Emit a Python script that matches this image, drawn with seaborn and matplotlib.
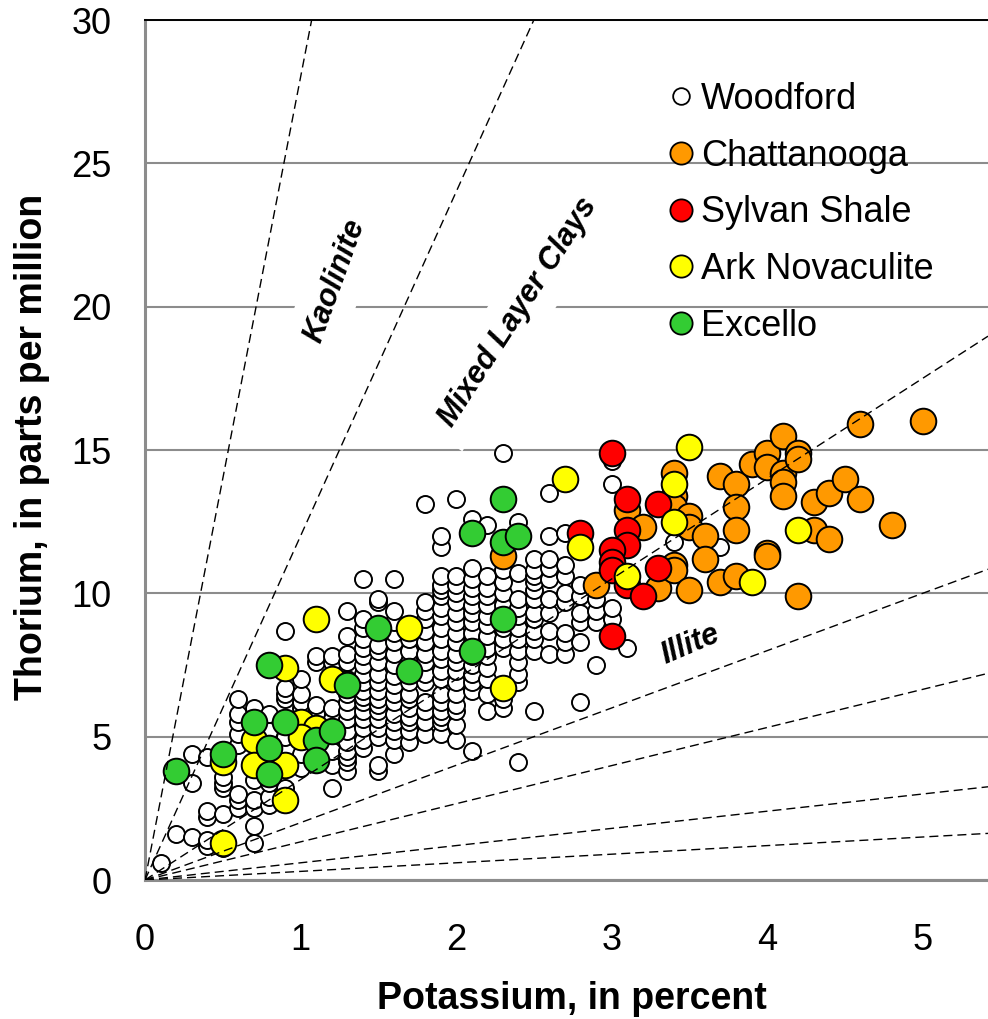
import matplotlib
matplotlib.use("Agg")
import matplotlib.pyplot as plt
import numpy as np
import pandas as pd
import seaborn as sns
from matplotlib.lines import Line2D
from matplotlib.ticker import MultipleLocator

sns.set_theme(style="white")
plt.rcParams["font.family"] = ["Liberation Sans", "DejaVu Sans"]
plt.rcParams["text.color"] = "black"
plt.rcParams["axes.labelcolor"] = "black"
plt.rcParams["xtick.color"] = "black"
plt.rcParams["ytick.color"] = "black"

# ---------------------------------------------------------------- data
# Woodford samples: thorium values (ppm) grouped by potassium (%)
woodford_th_by_k = {
    0.1: [0.6],
    0.2: [1.6],
    0.3: [1.5, 3.4, 4.4],
    0.4: [1.2, 1.4, 2.2, 2.4, 4.3],
    0.5: [1.1, 2.3, 3.2, 3.4, 3.6, 4.2],
    0.6: [2.5, 2.8, 3.0, 4.7, 5.1, 5.5, 5.8, 6.3],
    0.7: [1.3, 1.9, 2.5, 2.8, 3.5, 5.7, 6.0],
    0.8: [2.6, 2.9, 3.4, 4.1, 5.2, 5.8],
    0.9: [3.2, 5.0, 6.3, 6.5, 6.7, 8.7],
    1.0: [3.9, 4.4, 6.0, 6.2, 6.5, 7.0],
    1.1: [4.5, 5.5, 5.8, 6.1, 7.6, 7.8],
    1.2: [3.2, 4.0, 4.5, 5.6, 6.0, 7.6, 7.8],
    1.3: [3.8, 4.1, 4.3, 4.5, 4.8, 5.2, 5.6, 5.9, 6.2, 6.5, 7.0, 7.6, 7.9, 8.5, 9.4],
    1.4: [4.6, 4.9, 5.3, 5.6, 5.9, 6.2, 6.4, 6.6, 6.9, 7.2, 7.5, 7.8, 8.1, 8.4, 8.8, 9.1, 10.5],
    1.5: [3.8, 4.0, 5.0, 5.3, 5.6, 5.9, 6.1, 6.3, 6.6, 6.9, 7.2, 7.6, 8.0, 8.2, 9.7, 9.8],
    1.6: [4.4, 4.9, 5.2, 5.5, 5.8, 6.2, 6.5, 6.8, 7.1, 7.5, 7.9, 8.3, 8.6, 9.0, 9.4, 10.5],
    1.7: [4.8, 5.2, 5.5, 5.7, 6.0, 6.3, 6.5, 6.9, 7.6, 8.0, 8.4, 8.7],
    1.8: [5.1, 5.5, 5.9, 6.2, 6.9, 7.2, 7.6, 7.9, 8.3, 8.7, 9.1, 9.4, 9.7, 13.1],
    1.9: [5.1, 5.5, 5.7, 5.9, 6.2, 6.5, 7.0, 7.3, 7.7, 8.0, 8.4, 8.8, 9.2, 9.5, 9.9, 10.1, 10.3, 10.6, 11.6, 12.0],
    2.0: [4.9, 5.4, 5.9, 6.1, 6.5, 6.9, 7.3, 7.6, 7.9, 8.3, 8.6, 9.0, 9.3, 9.7, 10.0, 10.3, 10.6, 13.3],
    2.1: [4.5, 6.6, 6.9, 7.2, 7.5, 7.8, 8.3, 8.6, 9.0, 9.3, 9.6, 9.9, 10.2, 10.5, 10.9, 12.6],
    2.2: [5.9, 6.5, 7.0, 7.4, 7.8, 8.1, 8.5, 8.9, 9.2, 9.6, 9.9, 10.2, 10.6, 12.4],
    2.3: [6.0, 6.3, 8.1, 8.4, 8.8, 9.2, 9.6, 10.0, 10.4, 10.8, 11.3, 14.9],
    2.4: [4.1, 6.9, 7.2, 7.6, 8.0, 8.4, 8.8, 9.2, 9.5, 9.8, 10.7, 12.5],
    2.5: [5.9, 8.0, 8.4, 8.7, 9.1, 9.3, 9.8, 10.1, 10.4, 10.6, 10.8, 11.2],
    2.6: [7.9, 8.7, 9.3, 9.8, 10.5, 10.9, 11.2, 12.0, 13.5],
    2.7: [7.9, 8.3, 8.6, 9.7, 10.0, 10.6, 11.0, 12.1],
    2.8: [6.2, 8.3, 9.0, 9.3, 9.9, 10.3],
    2.9: [7.5, 9.0, 9.4, 9.8],
    3.0: [9.1, 9.5, 13.8, 14.6],
    3.1: [8.1],
    3.4: [11.8],
    3.7: [11.6],
}

chattanooga_k = [2.3, 2.9, 3.1, 3.2, 3.3, 3.4, 3.4, 3.4, 3.4, 3.4, 3.5, 3.5, 3.5,
                 3.6, 3.6, 3.7, 3.7, 3.8, 3.8, 3.8, 3.8, 3.9, 4.0, 4.0, 4.0, 4.0,
                 4.1, 4.1, 4.1, 4.1, 4.2, 4.2, 4.2, 4.3, 4.3, 4.4, 4.4, 4.5, 4.6,
                 4.6, 4.8, 5.0]
chattanooga_th = [11.3, 10.3, 12.9, 12.3, 10.2, 14.2, 13.4, 13.0, 11.0, 10.8, 12.7, 12.3, 10.1,
                  12.0, 11.2, 14.1, 10.4, 13.8, 13.0, 12.2, 10.6, 14.5, 14.9, 14.4, 11.4, 11.3,
                  15.5, 14.2, 13.9, 13.4, 14.9, 14.7, 9.9, 13.2, 12.2, 13.5, 11.9, 14.0, 15.9,
                  13.3, 12.4, 16.0]

sylvan_k = [3.0, 3.1, 3.3, 2.8, 3.1, 3.1, 3.0, 3.0, 3.0, 3.3, 3.1, 3.2, 3.0]
sylvan_th = [14.9, 13.3, 13.1, 12.1, 12.2, 11.7, 11.5, 11.1, 10.8, 10.9, 10.3, 9.9, 8.5]

ark_k = [0.5, 0.5, 0.7, 0.7, 0.9, 0.9, 0.9, 1.0, 1.1, 1.0, 1.2, 1.1, 1.7, 2.3,
         2.7, 2.8, 3.1, 3.4, 3.4, 3.5, 3.9, 4.2]
ark_th = [1.3, 4.1, 4.9, 4.0, 4.0, 2.8, 7.4, 5.5, 5.3, 5.0, 7.0, 9.1, 8.8, 6.7,
          14.0, 11.6, 10.6, 13.8, 12.5, 15.1, 10.4, 12.2]

excello_k = [0.2, 0.5, 0.7, 0.8, 0.8, 0.8, 0.9, 1.1, 1.1, 1.2, 1.3, 1.5, 1.7,
             2.1, 2.3, 2.1, 2.3, 2.3, 2.4]
excello_th = [3.8, 4.4, 5.5, 7.5, 4.6, 3.7, 5.5, 4.9, 4.2, 5.2, 6.8, 8.8, 7.3,
              8.0, 9.1, 12.1, 13.3, 11.8, 12.0]

# Th/K ratio reference lines and their clay-mineral labels
ratio_slopes = [28, 12, 3.5, 2.0, 1.33, 0.6, 0.3]
zone_labels = ["Kaolinite", "Mixed Layer Clays", "Illite"]
zone_label_k = [1.22, 2.40, 3.51]
zone_label_th = [20.9, 19.8, 8.2]
zone_label_angle = [70, 57, 23]

group_names = ["Woodford", "Chattanooga", "Sylvan Shale", "Ark Novaculite", "Excello"]
group_colors = ["white", "#FF9900", "#FF0000", "#FFFF00", "#33CC33"]

# ---------------------------------------------------------------- frames
wood_k, wood_th = [], []
for k, ths in woodford_th_by_k.items():
    wood_k += [k] * len(ths)
    wood_th += ths
frames = [
    pd.DataFrame({"K": wood_k, "Th": wood_th}),
    pd.DataFrame({"K": chattanooga_k, "Th": chattanooga_th}),
    pd.DataFrame({"K": sylvan_k, "Th": sylvan_th}),
    pd.DataFrame({"K": ark_k, "Th": ark_th}),
    pd.DataFrame({"K": excello_k, "Th": excello_th}),
]

# ---------------------------------------------------------------- figure
W, H = 988, 1019
fig = plt.figure(figsize=(W / 100, H / 100), dpi=100)
ax = fig.add_axes([145 / W, 139 / H, 843 / W, 860 / H])

grey = "#8C8C8C"
sizes = [150, 340, 340, 340, 340]
for i, (df, color) in enumerate(zip(frames, group_colors)):
    sns.scatterplot(data=df, x="K", y="Th", ax=ax, s=sizes[i], color=color,
                    edgecolor="black", linewidth=1.4, legend=False, zorder=3 + i)

for s in ratio_slopes:
    ax.axline((0, 0), slope=s, color="black", lw=1.0,
              linestyle=(0, (6.5, 3.6)), zorder=10)

for txt, xk, yt, ang in zip(zone_labels, zone_label_k, zone_label_th, zone_label_angle):
    ax.text(xk, yt, txt, rotation=ang, rotation_mode="anchor", ha="center",
            va="center", fontsize=22, fontweight="bold", fontstyle="italic",
            color="black",
            bbox=dict(boxstyle="square,pad=0.45", fc="white", ec="none"), zorder=2)

ax.set_xlim(0, 5.42)
ax.set_ylim(0, 30)
ax.set_xticks([0, 1, 2, 3, 4, 5])
ax.xaxis.set_minor_locator(MultipleLocator(0.2))
ax.set_yticks([0, 5, 10, 15, 20, 25, 30])
ax.yaxis.set_minor_locator(MultipleLocator(1))

ax.set_axisbelow(True)
ax.yaxis.grid(True, which="major", color=grey, lw=1.5)
ax.xaxis.grid(False)

for side in ["left", "bottom"]:
    ax.spines[side].set_color(grey)
    ax.spines[side].set_linewidth(2.2)
ax.spines["right"].set_visible(False)
ax.spines["top"].set_color("black")
ax.spines["top"].set_linewidth(1.4)

ax.tick_params(axis="both", which="both", direction="in", color=grey, width=1.1,
               labelsize=26, labelcolor="black")
ax.tick_params(axis="x", which="major", length=9, pad=31)
ax.tick_params(axis="x", which="minor", length=5)
ax.tick_params(axis="y", which="major", length=6, pad=24)
ax.tick_params(axis="y", which="minor", length=6)

ax.set_xlabel("Potassium, in percent", fontsize=27, fontweight="bold", color="black")
ax.set_ylabel("Thorium, in parts per million", fontsize=27, fontweight="bold", color="black")
ax.xaxis.set_label_coords(0.5065, -0.117)
ax.yaxis.set_label_coords(-0.113, 0.5035)

handles = [
    Line2D([], [], ls="", marker="o", markersize=12 if i == 0 else 16,
           markerfacecolor=c, markeredgecolor="black", markeredgewidth=1.3)
    for i, c in enumerate(group_colors)
]
leg = ax.legend(handles, group_names, loc="upper left",
                bbox_to_anchor=((667 - 145) / 843, (880 - 82) / 860),
                frameon=False, fontsize=26, borderpad=0, borderaxespad=0,
                handlelength=0.8, handletextpad=0.15, labelspacing=0.6)
for t in leg.get_texts():
    t.set_color("black")

fig.savefig("out.png", dpi=100)
